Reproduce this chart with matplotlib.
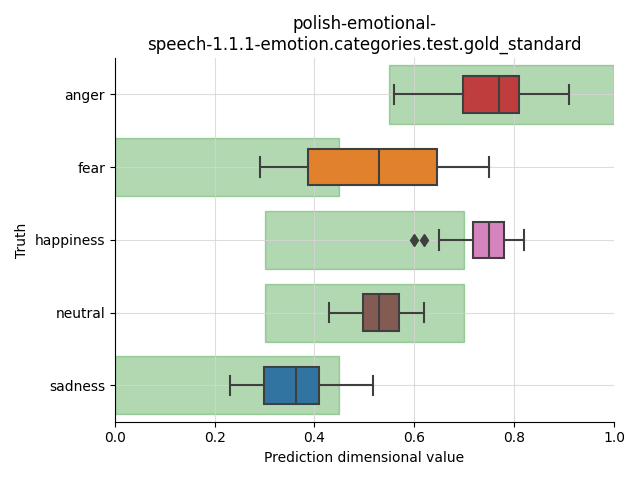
import matplotlib
matplotlib.use("Agg")
import matplotlib.pyplot as plt
from matplotlib.patches import Rectangle

categories = ["anger", "fear", "happiness", "neutral", "sadness"]
box_colors = ["#c03d3e", "#e1812c", "#d684bd", "#845b53", "#3274a1"]

# five-number summaries
whislo = [0.559, 0.291, 0.649, 0.429, 0.230]
q1 = [0.697, 0.387, 0.718, 0.498, 0.299]
med = [0.770, 0.529, 0.749, 0.529, 0.364]
q3 = [0.810, 0.645, 0.780, 0.570, 0.409]
whishi = [0.910, 0.749, 0.820, 0.619, 0.518]
fliers = [[], [], [0.599, 0.620], [], []]

# expected range per category (green bands)
range_lo = [0.55, 0.0, 0.3, 0.3, 0.0]
range_hi = [1.0, 0.45, 0.7, 0.7, 0.45]

fig, ax = plt.subplots(figsize=(6.4, 4.8), dpi=100)

for i, cat in enumerate(categories):
    ax.add_patch(Rectangle((range_lo[i], i - 0.4), range_hi[i] - range_lo[i], 0.8,
                           facecolor="green", edgecolor="green", alpha=0.3,
                           linewidth=1, zorder=1))

stats = []
for i, cat in enumerate(categories):
    stats.append(dict(label=cat, whislo=whislo[i], q1=q1[i], med=med[i],
                      q3=q3[i], whishi=whishi[i], fliers=fliers[i]))

gray = "#3f3f3f"
bp = ax.bxp(stats, positions=range(len(categories)), vert=False, widths=0.5,
            patch_artist=True, showfliers=True,
            boxprops=dict(edgecolor=gray, linewidth=1.5),
            medianprops=dict(color=gray, linewidth=1.5),
            whiskerprops=dict(color=gray, linewidth=1.5),
            capprops=dict(color=gray, linewidth=1.5),
            flierprops=dict(marker="d", markerfacecolor=gray, markeredgecolor=gray,
                            markersize=6),
            capwidths=0.27, zorder=2)
for patch, c in zip(bp["boxes"], box_colors):
    patch.set_facecolor(c)
for key in ["whiskers", "caps", "medians", "fliers"]:
    for art in bp[key]:
        art.set_zorder(4)

ax.set_xlim(0, 1)
ax.set_ylim(4.5, -0.5)
ax.set_yticks(range(len(categories)))
ax.set_yticklabels(categories)
ax.grid(True, color="#d5d5d5", linewidth=0.8, alpha=0.8)
for gl in ax.get_xgridlines() + ax.get_ygridlines():
    gl.set_zorder(3)
ax.spines["top"].set_visible(False)
ax.spines["right"].set_visible(False)
for sp in ax.spines.values():
    sp.set_zorder(6)
ax.set_xlabel("Prediction dimensional value")
ax.set_ylabel("Truth")
ax.set_title("polish-emotional-\nspeech-1.1.1-emotion.categories.test.gold_standard")
plt.tight_layout()
plt.savefig("out.png")
